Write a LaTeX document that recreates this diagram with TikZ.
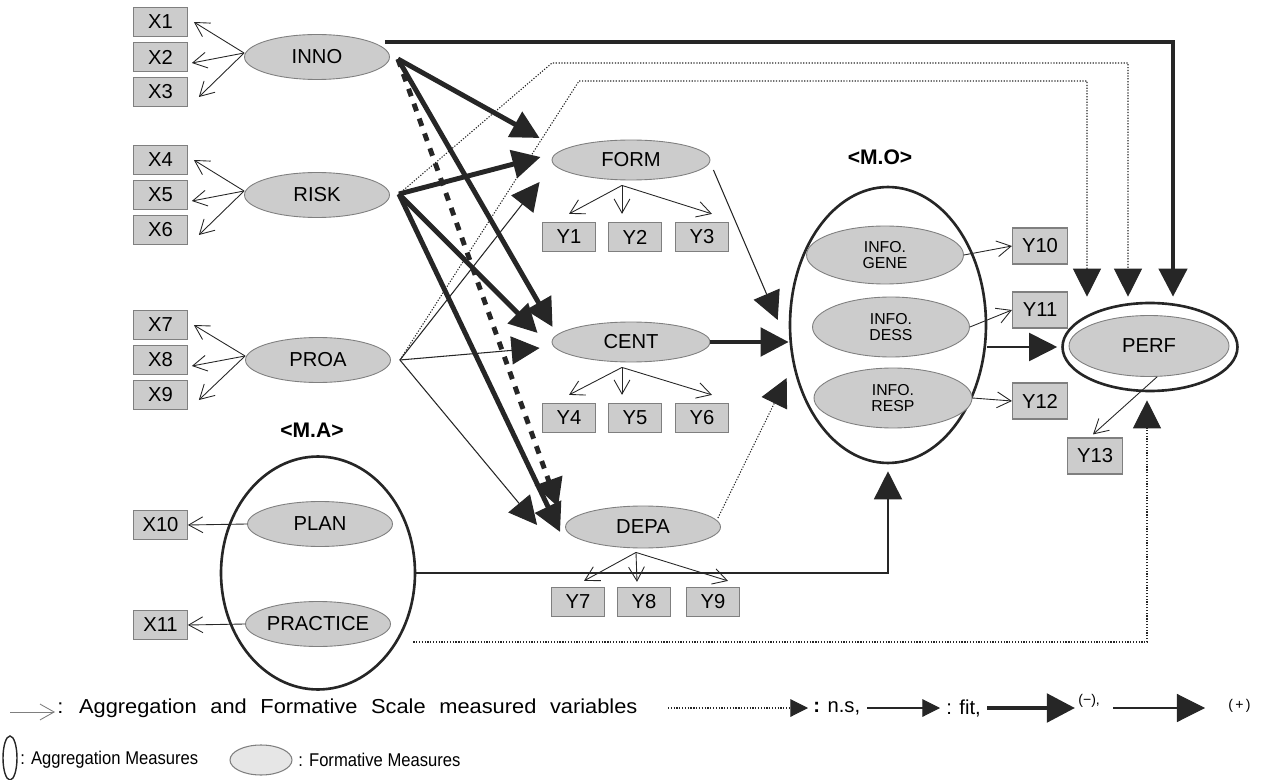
\documentclass[tikz,border=0pt]{standalone}
\usepackage{fontspec}
\setmainfont{Liberation Sans}
\usepackage{graphicx}
\usetikzlibrary{shapes.geometric,arrows.meta,calc}
\definecolor{ink}{HTML}{262626}
\definecolor{latfill}{HTML}{CCCCCC}
\definecolor{boxline}{HTML}{7F7F7F}
\newcommand\legtxt[1]{\scalebox{0.9}[1]{#1}}
\newcommand\legwide[1]{\scalebox{1.08}[1]{\spaceskip=7.2pt #1}}
\begin{document}
\begin{tikzpicture}[x=0.02cm,y=-0.02cm,
    font=\fontsize{11.5}{13}\selectfont,
    lat/.style={ellipse,draw=boxline,fill=latfill,line width=0.5pt,inner sep=0pt,
      minimum width=2.9cm,minimum height=0.9cm},
    info/.style={lat,align=center,font=\fontsize{9}{9.4}\selectfont},
    ind/.style={rectangle,draw=boxline,fill=latfill,line width=0.7pt,inner sep=0pt,
      minimum width=1.07cm,minimum height=0.58cm},
    indb/.style={ind,minimum width=1.1cm,minimum height=0.72cm},
    ring/.style={ellipse,draw=ink,line width=1.5pt,inner sep=0pt},
    grp/.style={font=\fontsize{12}{13}\selectfont\bfseries},
    meas/.style={draw=ink,line width=0.5pt,-{Straight Barb[length=8pt,width=9pt]}},
    plusarr/.style={draw=ink,line width=0.6pt,-{Triangle[length=16pt,width=16pt]}},
    minusarr/.style={draw=ink,line width=2.8pt,-{Triangle[length=16pt,width=16pt]}},
    nsarr/.style={draw=ink,line width=0.6pt,dash pattern=on 0.7pt off 0.9pt,
      -{Triangle[length=16pt,width=16pt]}},
    nsminus/.style={minusarr,dash pattern=on 4.5pt off 4.5pt},
    legend/.style={anchor=west,inner sep=0pt}]
\useasboundingbox (0,0) rectangle (1264,780);

\node[ind] (X1) at (160.5,22) {X1};
\node[ind] (X2) at (160.5,57) {X2};
\node[ind] (X3) at (160.5,92) {X3};
\node[ind] (X4) at (160.5,160) {X4};
\node[ind] (X5) at (160.5,195) {X5};
\node[ind] (X6) at (160.5,230) {X6};
\node[ind] (X7) at (160.5,325) {X7};
\node[ind] (X8) at (160.5,360) {X8};
\node[ind] (X9) at (160.5,395) {X9};
\node[ind] (X10) at (160.5,525) {X10};
\node[ind] (X11) at (160.5,625) {X11};

\node[lat] (INNO) at (317,57) {INNO};
\node[lat] (RISK) at (317,195) {RISK};
\node[lat] (PROA) at (318,360) {PROA};

\node[grp] (malab) at (312,430) {<M.A>};
\node[ring,minimum width=3.88cm,minimum height=4.66cm] (MA) at (318,573) {};
\node[lat] (PLAN) at (320,524) {PLAN};
\node[lat] (PRAC) at (318,624) {PRACTICE};

\node[lat,minimum width=3.16cm,minimum height=0.8cm] (FORM) at (631,160) {FORM};
\node[lat,minimum width=3.16cm,minimum height=0.8cm] (CENT) at (631,342) {CENT};
\node[lat,minimum width=3.1cm,minimum height=0.84cm] (DEPA) at (643,527) {DEPA};
\node[ind] (Y1) at (569,237) {Y1};
\node[ind] (Y2) at (635,237) {Y2};
\node[ind] (Y3) at (702,237) {Y3};
\node[ind] (Y4) at (569,418) {Y4};
\node[ind] (Y5) at (635,418) {Y5};
\node[ind] (Y6) at (702,418) {Y6};
\node[ind] (Y7) at (578,602) {Y7};
\node[ind] (Y8) at (644,602) {Y8};
\node[ind] (Y9) at (713,602) {Y9};

\node[grp] (molab) at (880,157) {<M.O>};
\node[ring,minimum width=3.92cm,minimum height=5.52cm] (MO) at (888,325) {};
\node[info,minimum width=3.14cm,minimum height=1.16cm] (GENE) at (885,255) {INFO.\\GENE};
\node[info,minimum width=3.14cm,minimum height=1.2cm] (DESS) at (891,327) {INFO.\\DESS};
\node[info,minimum width=3.16cm,minimum height=1.2cm] (RESP) at (893,398) {INFO.\\RESP};
\node[indb] (Y10) at (1040,246) {Y10};
\node[indb] (Y11) at (1040,310) {Y11};
\node[indb] (Y12) at (1040,401) {Y12};

\node[ring,minimum width=3.5cm,minimum height=1.76cm] (PERFo) at (1150,347) {};
\node[lat,minimum width=3.2cm,minimum height=1.22cm] (PERF) at (1149,346) {PERF};
\node[indb] (Y13) at (1095,456) {Y13};

\coordinate (innoR) at ($(INNO.east)+(8,2)$);
\coordinate (innoT) at ($(INNO.east)+(-5,-15)$);
\coordinate (riskR) at ($(RISK.east)+(9,-1)$);
\coordinate (proaR) at ($(PROA.east)+(9,0)$);
\coordinate (bendA) at (552,63);
\coordinate (bendB) at (579,81);
\coordinate (maR) at ($(MA.east)+(-3,69)$);

\foreach \lv/\a/\b/\c in {INNO/X1/X2/X3,RISK/X4/X5/X6,PROA/X7/X8/X9}{
  \draw[meas] ($(\lv.west)+(0,-4)$) -- ($(\a.east)+(6,0)$);
  \draw[meas] ($(\lv.west)+(0,-4)$) -- ($(\b.east)+(4,6)$);
  \draw[meas] ($(\lv.west)+(0,-4)$) -- ($(\c.east)+(11,5)$);
}
\draw[meas] (PLAN.west) -- (X10.east);
\draw[meas] (PRAC.west) -- (X11.east);

\foreach \lv/\a/\b/\c in {FORM/Y1/Y2/Y3,CENT/Y4/Y5/Y6}{
  \draw[meas] ($(\lv.south)+(-9,5)$) -- ($(\a.north)+(0,-8)$);
  \draw[meas] ($(\lv.south)+(-9,5)$) -- ($(\b.north)+(-13,-8)$);
  \draw[meas] ($(\lv.south)+(-9,5)$) -- ($(\c.north)+(10,-8)$);
}
\draw[meas] ($(DEPA.south)+(-7,4)$) -- ($(Y7.north)+(6,-6)$);
\draw[meas] ($(DEPA.south)+(-7,4)$) -- ($(Y8.north)+(-7,-5)$);
\draw[meas] ($(DEPA.south)+(-7,4)$) -- ($(Y9.north)+(15,-6)$);
\draw[meas] (GENE.east) -- (Y10.west);
\draw[meas] (DESS.east) -- (Y11.west);
\draw[meas] (RESP.east) -- (Y12.west);
\draw[meas] ($(PERF.south)+(8,0)$) -- ($(Y13.north)+(-2,-3)$);

\draw[minusarr,line width=2.5pt] (innoT) -| ($(PERFo.north)+(23,-5)$);
\draw[nsarr] (riskR) -- (bendA) -| ($(PERFo.north)+(-22,-5)$);
\draw[nsarr] (proaR) -- (bendB) -| ($(PERFo.north)+(-63,-5)$);
\draw[minusarr] (innoR) -- ($(FORM.west)+(-12,-22)$);
\draw[minusarr] (innoR) -- ($(CENT.west)+(1,-15)$);
\draw[nsminus] (innoR) -- ($(DEPA.west)+(-7,-20)$);
\draw[minusarr] (riskR) -- ($(FORM.west)+(-11,-3)$);
\draw[minusarr] (riskR) -- ($(CENT.west)+(-14,-9)$);
\draw[minusarr] (riskR) -- ($(DEPA.west)+(-5,5)$);
\draw[plusarr] (proaR) -- ($(FORM.west)+(-12,22)$);
\draw[plusarr] (proaR) -- ($(CENT.west)+(-12,6)$);
\draw[plusarr] (proaR) -- ($(DEPA.west)+(-28,-2)$);
\draw[plusarr] ($(FORM.east)+(3,10)$) -- ($(MO.west)+(-11,-5)$);
\draw[minusarr] (CENT.east) -- (CENT.east -| MO.west);
\draw[nsarr] ($(DEPA.east)+(-3,-9)$) -- ($(MO.west)+(-2,53)$);
\draw[plusarr,line width=1pt] ($(MO.east)+(0,22)$) -- ($(PERFo.west)+(-4,0)$);
\draw[plusarr,line width=0.9pt] (MA.east) -| ($(MO.south)+(0,7)$);
\draw[nsarr] (maR) -| ($(PERFo.south)+(-3,8)$);

\draw[meas,draw=boxline] (10,712) -- (55,712);
\node[legend] (lg1) at (57,708) {\legwide{: Aggregation and Formative Scale measured variables}};
\draw[nsarr,-{Triangle[length=10pt,width=10pt]}] (668,708) -- (808,708);
\node[legend] (lg2) at (813,708) {\textbf{:} n.s,};
\draw[plusarr,-{Triangle[length=10pt,width=10pt]}] (867,708) -- (940,708);
\node[legend] (lg3) at (946,708) {: fit,};
\draw[minusarr] (987,708) -- (1075,708);
\node[legend,font=\fontsize{8}{9}\selectfont] (lg4) at (1078,701) {(−),};
\draw[plusarr] (1113,708) -- (1205,708);
\node[legend,font=\fontsize{8}{9}\selectfont] (lg5) at (1228,706) {(\,+\,)};
\node[ellipse,draw=ink,line width=0.8pt,inner sep=0pt,minimum width=0.28cm,minimum height=0.88cm] (lg6) at (10,758) {};
\node[legend,font=\fontsize{10.5}{12}\selectfont] (lg7) at (20,760) {\legtxt{: Aggregation Measures}};
\node[ellipse,draw=boxline,fill=latfill!50,line width=0.6pt,inner sep=0pt,minimum width=1.24cm,minimum height=0.6cm] (lg8) at (261,760) {};
\node[legend,font=\fontsize{10.5}{12}\selectfont] (lg9) at (298,760) {\legtxt{: Formative Measures}};
\end{tikzpicture}
\end{document}
